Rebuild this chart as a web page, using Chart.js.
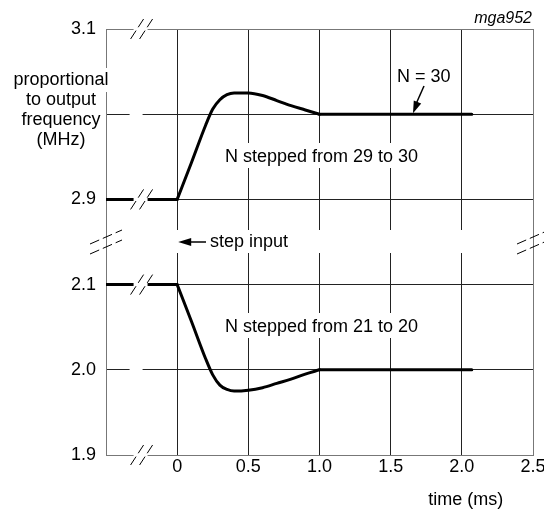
<!DOCTYPE html>
<html>
<head>
<meta charset="utf-8">
<script src="https://cdn.jsdelivr.net/npm/chart.js@4"></script>
<style>
  body { margin: 0; background: #fff; }
  canvas { display: block; }
</style>
</head>
<body>
<canvas id="stepChart" width="544" height="511"></canvas>
<script>
// Data
const timeMs = [-0.5, 0, 0.1, 0.2, 0.25, 0.3, 0.35, 0.4, 0.5, 0.6, 0.7, 0.8, 0.9, 1.0, 2.07];
const freqUp = [2.9, 2.9, 2.943, 2.987, 3.006, 3.017, 3.023, 3.025, 3.025, 3.022, 3.016, 3.010, 3.005, 3.0, 3.0];
const freqDown = [2.1, 2.1, 2.057, 2.013, 1.994, 1.982, 1.977, 1.975, 1.976, 1.979, 1.984, 1.989, 1.995, 2.0, 2.0];

const xTicks = [-0.5, 0, 0.5, 1.0, 1.5, 2.0, 2.5];
const yTicks = [1.9, 2.0, 2.1, 2.9, 3.0, 3.1];
const yLabels = ['1.9', '2.0', '2.1', '2.9', '', '3.1'];
const yTitle = ['proportional', 'to output', 'frequency', '(MHz)'];

const FONT = "'Liberation Sans', Arial, sans-serif";
Chart.defaults.font.family = FONT;
Chart.defaults.color = '#000';

// broken y axis: 1.9..2.1 and 2.9..3.1 on one index scale
function toAxis(v) {
  return v < 2.5 ? (v - 1.9) * 10 : (v - 2.9) * 10 + 3;
}

// split each curve: flat lead-in, transient, flat tail (keeps sharp corners)
function part(values, from, to) {
  const pts = [];
  for (let i = from; i <= to; i++) pts.push({ x: timeMs[i], y: toAxis(values[i]) });
  return pts;
}
const last = timeMs.length - 1;
const lineStyle = { borderColor: '#000', borderWidth: 3, pointRadius: 0, borderCapStyle: 'round', borderJoinStyle: 'round', cubicInterpolationMode: 'monotone', fill: false };
const datasets = [];
[freqUp, freqDown].forEach(vals => {
  datasets.push({ ...lineStyle, data: part(vals, 0, 1) });
  datasets.push({ ...lineStyle, data: part(vals, 1, last - 1) });
  datasets.push({ ...lineStyle, data: part(vals, last - 1, last) });
});

function arrowHead(ctx, tipX, tipY, fromX, fromY, len, half) {
  const a = Math.atan2(tipY - fromY, tipX - fromX);
  ctx.beginPath();
  ctx.moveTo(tipX, tipY);
  ctx.lineTo(tipX - len * Math.cos(a) + half * Math.sin(a), tipY - len * Math.sin(a) - half * Math.cos(a));
  ctx.lineTo(tipX - len * Math.cos(a) - half * Math.sin(a), tipY - len * Math.sin(a) + half * Math.cos(a));
  ctx.closePath();
  ctx.fill();
}

function textWithBox(ctx, txt, cx, base, padX, up, down) {
  const w = ctx.measureText(txt).width;
  ctx.fillStyle = '#fff';
  ctx.fillRect(cx - w / 2 - padX, base - up, w + 2 * padX, up + down);
  ctx.fillStyle = '#000';
  ctx.fillText(txt, cx, base);
}

// "//" mark on a horizontal line
function breakMark(ctx, cx, cy) {
  ctx.fillStyle = '#fff';
  ctx.fillRect(cx - 8, cy - 3, 14, 6);
  ctx.strokeStyle = '#000';
  ctx.lineWidth = 1;
  ctx.setLineDash([10, 4]);
  [-4.5, 4.5].forEach(dx => {
    ctx.beginPath();
    ctx.moveTo(cx + dx - 6.5, cy + 10);
    ctx.lineTo(cx + dx + 6.5, cy - 10);
    ctx.stroke();
  });
  ctx.setLineDash([]);
}

// "//" mark across a vertical axis
function sideBreak(ctx, cx, cy) {
  ctx.strokeStyle = '#000';
  ctx.lineWidth = 1;
  ctx.setLineDash([10, 4]);
  [-5, 5].forEach(dy => {
    ctx.beginPath();
    ctx.moveTo(cx - 16, cy + dy + 7);
    ctx.lineTo(cx + 16, cy + dy - 7);
    ctx.stroke();
  });
  ctx.setLineDash([]);
}

const decorations = {
  id: 'decorations',
  beforeDatasetsDraw(chart) {
    const { ctx, scales: { x, y } } = chart;
    ctx.save();
    ctx.fillStyle = '#fff';
    const bandY = (y.getPixelForValue(2) + y.getPixelForValue(3)) / 2;
    [0, 0.5, 1.0, 1.5, 2.0].forEach(v => {
      const px = x.getPixelForValue(v);
      ctx.fillRect(px - 2, bandY - 12, 4, 23);
    });
    const bx = x.getPixelForValue(-0.25);
    [1, 4].forEach(i => ctx.fillRect(bx - 12, y.getPixelForValue(i) - 2, 13, 4));

    ctx.font = '18px ' + FONT;
    ctx.textAlign = 'center';
    ctx.textBaseline = 'alphabetic';
    const cText = x.getPixelForValue(1.0) + 2;
    textWithBox(ctx, 'N stepped from 29 to 30', cText, 162, 4, 19, 6);
    textWithBox(ctx, 'N stepped from 21 to 20', cText, 332, 4, 19, 6);

    yTitle.forEach((t, i) => textWithBox(ctx, t, 61, 85 + i * 20, 3, 17, 7));
    ctx.restore();
  },
  afterDatasetsDraw(chart) {
    const { ctx, scales: { x, y } } = chart;
    ctx.save();
    const bx = x.getPixelForValue(-0.25);
    [0, 2, 3, 5].forEach(i => breakMark(ctx, bx, y.getPixelForValue(i)));
    const bandY = (y.getPixelForValue(2) + y.getPixelForValue(3)) / 2;
    sideBreak(ctx, x.getPixelForValue(-0.5), bandY);
    sideBreak(ctx, x.getPixelForValue(2.5), bandY);

    ctx.fillStyle = '#000';
    ctx.strokeStyle = '#000';
    ctx.lineWidth = 1.5;
    // step input arrow
    const x0 = x.getPixelForValue(0);
    ctx.beginPath();
    ctx.moveTo(206, bandY);
    ctx.lineTo(x0 + 10, bandY);
    ctx.stroke();
    arrowHead(ctx, x0 + 1, bandY, 206, bandY, 13, 4);
    // N = 30 arrow
    const y30 = y.getPixelForValue(4);
    ctx.beginPath();
    ctx.moveTo(424, 86);
    ctx.lineTo(416, 104);
    ctx.stroke();
    arrowHead(ctx, 413, y30 - 1, 424, 86, 12, 4);

    ctx.font = '18px ' + FONT;
    ctx.textAlign = 'left';
    ctx.textBaseline = 'alphabetic';
    ctx.fillText('step input', 210, 247);
    ctx.fillText('N = 30', 397, 82);
    ctx.textAlign = 'center';
    ctx.fillText('time (ms)', x.getPixelForValue(2.0) + 4, 505);
    ctx.font = 'italic 16px ' + FONT;
    ctx.textAlign = 'right';
    ctx.fillText('mga952', 532, 23);
    ctx.restore();
  }
};

const edge = (v, a, b) => Math.abs(v - a) < 1e-6 || Math.abs(v - b) < 1e-6;

new Chart(document.getElementById('stepChart'), {
  type: 'line',
  data: { datasets: datasets },
  options: {
    responsive: false,
    animation: false,
    layout: { padding: { top: 29, right: 11, left: 0, bottom: 0 } },
    plugins: { legend: { display: false }, tooltip: { enabled: false } },
    scales: {
      x: {
        type: 'linear',
        min: -0.5,
        max: 2.5,
        afterBuildTicks: s => { s.ticks = xTicks.map(v => ({ value: v })); },
        afterFit: s => { s.height = 56; s.paddingLeft = 0; s.paddingRight = 0; },
        ticks: {
          autoSkip: false,
          maxRotation: 0,
          padding: 1,
          font: { size: 18 },
          callback: v => (v < 0 ? '' : v === 0 ? '0' : v.toFixed(1))
        },
        grid: {
          drawTicks: false,
          lineWidth: 1,
          color: c => (c.tick && edge(c.tick.value, -0.5, 2.5) ? '#777' : '#222')
        },
        border: { display: true, color: '#777' }
      },
      y: {
        type: 'linear',
        min: 0,
        max: 5,
        afterBuildTicks: s => { s.ticks = yTicks.map((v, i) => ({ value: i })); },
        afterFit: s => { s.width = 106; s.paddingTop = 0; s.paddingBottom = 0; },
        ticks: {
          padding: 10,
          font: { size: 18 },
          callback: v => yLabels[v] ?? ''
        },
        grid: {
          drawTicks: false,
          lineWidth: 1,
          color: c => (c.tick && edge(c.tick.value, 0, 5) ? '#777' : '#222')
        },
        border: { display: true, color: '#777' }
      }
    }
  },
  plugins: [decorations]
});
</script>
</body>
</html>
